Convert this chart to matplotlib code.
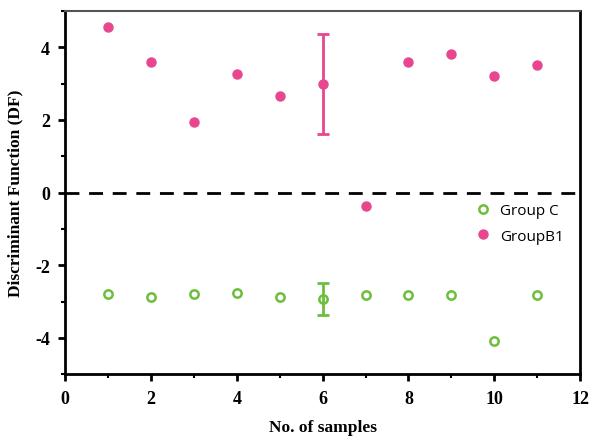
import matplotlib
matplotlib.use('Agg')
import matplotlib.pyplot as plt
from matplotlib.ticker import MultipleLocator

plt.rcParams['axes.unicode_minus'] = False

samples = [1, 2, 3, 4, 5, 6, 7, 8, 9, 10, 11]
group_c = [-2.78, -2.86, -2.78, -2.75, -2.86, -2.93, -2.81, -2.81, -2.81, -4.08, -2.81]
group_b1 = [4.55, 3.58, 1.93, 3.25, 2.67, 2.98, -0.36, 3.60, 3.80, 3.22, 3.52]
err_x = [6]
err_c = [0.43]
err_b1 = [1.37]

pink = '#e8468f'
green = '#6cbf3a'

fig = plt.figure(figsize=(5.92, 4.39), dpi=100)
ax = fig.add_axes([0.11, 0.145, 0.87, 0.828])

ax.axhline(0, color='black', linestyle=(0, (5, 3.5)), linewidth=2, zorder=1)

ax.plot(samples, group_c, linestyle='none', marker='o', markersize=6,
        markerfacecolor='none', markeredgecolor=green, markeredgewidth=1.8, label='Group C')
ax.plot(samples, group_b1, linestyle='none', marker='o', markersize=6.5,
        color=pink, label='GroupB1')

idx = samples.index(err_x[0])
ax.errorbar(err_x, [group_c[idx]], yerr=err_c, fmt='none', ecolor=green,
            elinewidth=2, capsize=4, capthick=2)
ax.errorbar(err_x, [group_b1[idx]], yerr=err_b1, fmt='none', ecolor=pink,
            elinewidth=2, capsize=4, capthick=2)

ax.set_xlim(0, 12)
ax.set_ylim(-5, 5)
ax.xaxis.set_major_locator(MultipleLocator(2))
ax.xaxis.set_minor_locator(MultipleLocator(1))
ax.yaxis.set_major_locator(MultipleLocator(2))
ax.yaxis.set_minor_locator(MultipleLocator(1))

for side in ['left', 'bottom', 'right']:
  ax.spines[side].set_linewidth(2)
ax.spines['top'].set_linewidth(1.5)
ax.spines['top'].set_color('#555555')

ax.tick_params(which='major', direction='out', length=5, width=2, pad=6)
ax.tick_params(which='minor', direction='out', length=3, width=1.5)
ax.tick_params(top=False, right=False, which='both')

for lbl in ax.get_xticklabels() + ax.get_yticklabels():
  lbl.set_fontfamily('Liberation Serif')
  lbl.set_fontweight('bold')
  lbl.set_fontsize(13)

ax.set_xlabel('No. of samples', fontfamily='Liberation Serif', fontweight='bold',
              fontsize=12.5, labelpad=9)
ax.set_ylabel('Discriminant Function (DF)', fontfamily='Liberation Serif', fontweight='bold',
              fontsize=12.5, labelpad=8)

leg = ax.legend(loc='center right', bbox_to_anchor=(0.995, 0.415), frameon=False,
                prop={'family': 'Open Sans', 'size': 11}, handletextpad=0.5,
                handlelength=1.2, labelspacing=0.7)

plt.savefig('out.png', dpi=100)
